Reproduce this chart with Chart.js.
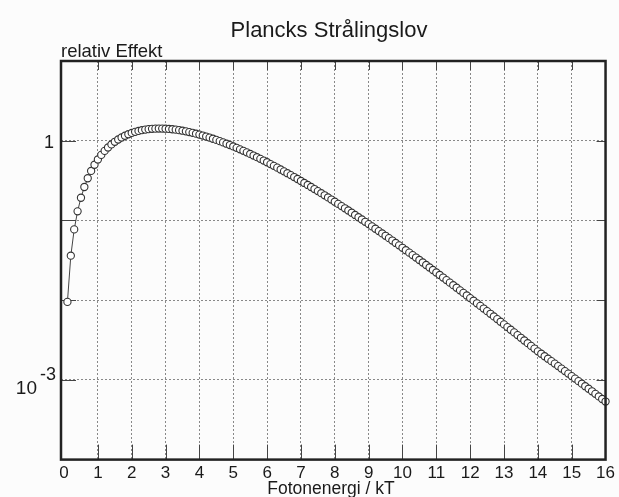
<!DOCTYPE html>
<html>
<head>
<meta charset="utf-8">
<title>Plancks Strålingslov</title>
<script src="https://cdn.jsdelivr.net/npm/chart.js@4.4.1/dist/chart.umd.min.js"></script>
<style>
  html, body { margin: 0; padding: 0; background: #fcfcfc; }
  canvas { display: block; }
</style>
</head>
<body>
<canvas id="myChart" width="619" height="497"></canvas>
<script>
// photon energy (x / kT), first entry is where the line drops off the bottom
const xValues = [
  0.1,
  0.1, 0.2, 0.3, 0.4, 0.5, 0.6, 0.7, 0.8, 0.9, 1.0,
  1.1, 1.2, 1.3, 1.4, 1.5, 1.6, 1.7, 1.8, 1.9, 2.0,
  2.1, 2.2, 2.3, 2.4, 2.5, 2.6, 2.7, 2.8, 2.9, 3.0,
  3.1, 3.2, 3.3, 3.4, 3.5, 3.6, 3.7, 3.8, 3.9, 4.0,
  4.1, 4.2, 4.3, 4.4, 4.5, 4.6, 4.7, 4.8, 4.9, 5.0,
  5.1, 5.2, 5.3, 5.4, 5.5, 5.6, 5.7, 5.8, 5.9, 6.0,
  6.1, 6.2, 6.3, 6.4, 6.5, 6.6, 6.7, 6.8, 6.9, 7.0,
  7.1, 7.2, 7.3, 7.4, 7.5, 7.6, 7.7, 7.8, 7.9, 8.0,
  8.1, 8.2, 8.3, 8.4, 8.5, 8.6, 8.7, 8.8, 8.9, 9.0,
  9.1, 9.2, 9.3, 9.4, 9.5, 9.6, 9.7, 9.8, 9.9, 10.0,
  10.1, 10.2, 10.3, 10.4, 10.5, 10.6, 10.7, 10.8, 10.9, 11.0,
  11.1, 11.2, 11.3, 11.4, 11.5, 11.6, 11.7, 11.8, 11.9, 12.0,
  12.1, 12.2, 12.3, 12.4, 12.5, 12.6, 12.7, 12.8, 12.9, 13.0,
  13.1, 13.2, 13.3, 13.4, 13.5, 13.6, 13.7, 13.8, 13.9, 14.0,
  14.1, 14.2, 14.3, 14.4, 14.5, 14.6, 14.7, 14.8, 14.9, 15.0,
  15.1, 15.2, 15.3, 15.4, 15.5, 15.6, 15.7, 15.8, 15.9, 16.0
];

// relative power
const yValues = [
  0,
  0.009508, 0.03613, 0.07717, 0.13013, 0.19269, 0.26273, 0.33835, 0.41778, 0.49945, 0.58198,
  0.66412, 0.74479, 0.82306, 0.89814, 0.96935, 1.03617, 1.09814, 1.15493, 1.20632, 1.25214,
  1.29232, 1.32685, 1.35579, 1.37920, 1.39727, 1.41018, 1.41811, 1.42133, 1.42010, 1.41469,
  1.40537, 1.39245, 1.37624, 1.35699, 1.33503, 1.31063, 1.28407, 1.25562, 1.22554, 1.19407,
  1.16146, 1.12791, 1.09364, 1.05883, 1.02368, 0.98834, 0.95297, 0.91770, 0.88265, 0.84796,
  0.8137, 0.7800, 0.7469, 0.7144, 0.6827, 0.6518, 0.6217, 0.5925, 0.5642, 0.5367,
  0.5091, 0.4837, 0.4592, 0.4356, 0.4129, 0.3911, 0.3702, 0.3502, 0.3311, 0.3128,
  0.2953, 0.2787, 0.2628, 0.2477, 0.2333, 0.2197, 0.2067, 0.1944, 0.1828, 0.1718,
  0.1613, 0.1514, 0.1421, 0.1333, 0.1250, 0.1171, 0.1097, 0.1027, 0.09615, 0.08997,
  0.08415, 0.07868, 0.07354, 0.06871, 0.06418, 0.05992, 0.05593, 0.05219, 0.04869, 0.04540,
  0.04232, 0.03945, 0.03675, 0.03423, 0.03188, 0.02968, 0.02762, 0.02570, 0.02390, 0.02223,
  0.02067, 0.01921, 0.01785, 0.01659, 0.01541, 0.01431, 0.01328, 0.01233, 0.01144, 0.01062,
  0.009849, 0.009135, 0.008470, 0.007853, 0.007279, 0.006745, 0.006250, 0.005790, 0.005363, 0.004966,
  0.004598, 0.004256, 0.003940, 0.003646, 0.003373, 0.003120, 0.002886, 0.002669, 0.002468, 0.002282,
  0.002126, 0.001980, 0.001844, 0.001718, 0.001600, 0.001488, 0.001385, 0.001289, 0.001199, 0.001115,
  0.001037, 0.000964, 0.000896, 0.000833, 0.000774, 0.000719, 0.000668, 0.000620, 0.000576, 0.000535
];

const xTicks = [0, 1, 2, 3, 4, 5, 6, 7, 8, 9, 10, 11, 12, 13, 14, 15, 16];
const yTicks = [0.0001, 0.001, 0.01, 0.1, 1, 10];
const titleText = "Plancks Strålingslov";
const yTitle = "relativ Effekt";
const xTitle = "Fotonenergi / kT";

const FONT = "'Liberation Sans', Arial, sans-serif";

const points = xValues.map((x, i) => ({ x: x, y: yValues[i] }));

// frame, inner tick marks and the texts around the plot
const decor = {
  id: "decor",
  beforeDatasetsDraw(chart) {
    const { ctx, chartArea: a, scales } = chart;
    ctx.save();
    ctx.strokeStyle = "#444";
    ctx.lineWidth = 1;
    ctx.beginPath();
    xTicks.forEach((v) => {
      if (v <= 0 || v >= 16) return;
      const px = Math.round(scales.x.getPixelForValue(v)) + 0.5;
      ctx.moveTo(px, a.bottom);
      ctx.lineTo(px, a.bottom - 15);
      ctx.moveTo(px, a.top);
      ctx.lineTo(px, a.top + 9);
    });
    yTicks.forEach((v) => {
      if (v <= 0.0001 || v >= 10) return;
      const py = Math.round(scales.y.getPixelForValue(v)) + 0.5;
      ctx.moveTo(a.left, py);
      ctx.lineTo(a.left + 15, py);
      ctx.moveTo(a.right, py);
      ctx.lineTo(a.right - 9, py);
    });
    ctx.stroke();
    ctx.restore();
  },
  afterDraw(chart) {
    const { ctx, chartArea: a, scales } = chart;
    ctx.save();
    ctx.strokeStyle = "#222";
    ctx.lineWidth = 2.5;
    ctx.strokeRect(a.left, a.top, a.right - a.left, a.bottom - a.top);

    ctx.fillStyle = "#1a1a1a";
    ctx.textBaseline = "alphabetic";
    ctx.textAlign = "center";
    ctx.font = "22px " + FONT;
    ctx.fillText(titleText, 329, 37);

    ctx.textAlign = "left";
    ctx.font = "18.5px " + FONT;
    ctx.fillText(yTitle, 61, 57);

    ctx.textAlign = "center";
    ctx.font = "17.5px " + FONT;
    ctx.fillText(xTitle, 331, 494);

    // y labels: 1 and 10^-3
    const p1 = scales.y.getPixelForValue(1);
    ctx.textAlign = "right";
    ctx.font = "18px " + FONT;
    ctx.fillText("1", 54, p1 + 7);
    const p3 = scales.y.getPixelForValue(0.001);
    ctx.font = "19px " + FONT;
    ctx.fillText("10", 37, p3 + 14);
    ctx.textAlign = "left";
    ctx.font = "18px " + FONT;
    ctx.fillText("-3", 40, p3);
    ctx.restore();
  }
};

const gridColor = (c) => {
  if (!c.tick) return "#888";
  const v = c.tick.value;
  if (c.scale.axis === "x" && (v === 0 || v === 16)) return "rgba(0,0,0,0)";
  if (c.scale.axis === "y" && (v === 0.0001 || v === 10)) return "rgba(0,0,0,0)";
  return "#888";
};

const myChart = new Chart(document.getElementById("myChart"), {
  type: "line",
  data: {
    datasets: [
      {
        data: points,
        borderColor: "#444",
        borderWidth: 1,
        pointRadius: (c) => (c.dataIndex === 0 ? 0 : 3.6),
        pointBorderWidth: 1.1,
        pointBorderColor: "#333",
        pointBackgroundColor: "#fff",
        tension: 0,
        clip: 8,
      },
    ],
  },
  plugins: [decor],
  options: {
    responsive: false,
    animation: false,
    events: [],
    layout: { padding: { left: 61, right: 13, top: 61, bottom: 9 } },
    plugins: {
      legend: { display: false },
      tooltip: { enabled: false },
      title: { display: false },
    },
    scales: {
      x: {
        type: "linear",
        min: -0.09,
        max: 16,
        afterBuildTicks: (s) => {
          s.ticks = xTicks.map((v) => ({ value: v }));
        },
        grid: { color: gridColor, lineWidth: 1, drawTicks: false },
        border: { display: false, dash: [2, 2] },
        ticks: {
          color: "#1a1a1a",
          font: { size: 17, family: FONT },
          padding: 4,
          maxRotation: 0,
          autoSkip: false,
        },
      },
      y: {
        type: "logarithmic",
        min: 0.0001,
        max: 10,
        afterBuildTicks: (s) => {
          s.ticks = yTicks.map((v) => ({ value: v }));
        },
        grid: { color: gridColor, lineWidth: 1, drawTicks: false },
        border: { display: false, dash: [2, 2] },
        ticks: { display: false },
      },
    },
  },
});
</script>
</body>
</html>
